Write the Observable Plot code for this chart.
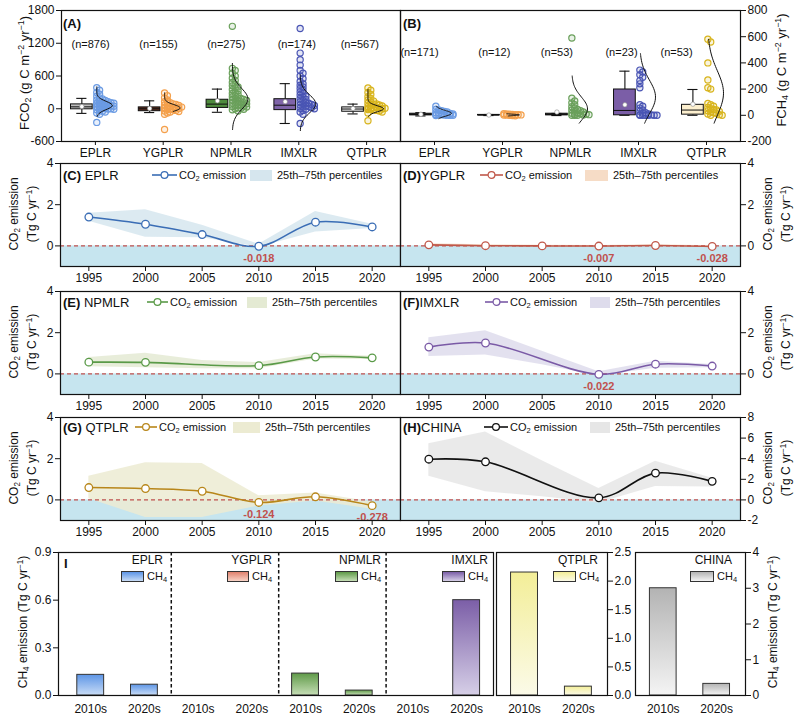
<!DOCTYPE html>
<html>
<head>
<meta charset="utf-8">
<script src="https://cdn.jsdelivr.net/npm/d3@7"></script>
<script src="https://cdn.jsdelivr.net/npm/@observablehq/plot@0.6"></script>
<style>
html,body{margin:0;padding:0;background:#fff;}
#fig{position:relative;width:800px;height:722px;overflow:hidden;font-family:"Liberation Sans",Arial,Helvetica,sans-serif;color:#111;}
#fig sub{font-size:0.68em;vertical-align:-0.3em;line-height:0;}
#fig sup{font-size:0.68em;vertical-align:0.5em;line-height:0;}
</style>
</head>
<body>
<div id="fig"></div>
<script>
// ---------------- DATA ----------------
const regions = ["EPLR", "YGPLR", "NPMLR", "IMXLR", "QTPLR"];

// Panel A: FCO2 (g C m-2 yr-1)
const co2N = [876, 155, 275, 174, 567];
const co2Q1 = [-10, -45, 15, -25, -55];
const co2Median = [35, 0, 85, 65, -5];
const co2Q3 = [80, 25, 165, 175, 25];
const co2WhiskerLow = [-85, -70, -65, -270, -95];
const co2WhiskerHigh = [190, 145, 360, 460, 85];
const co2Mean = [40, 5, 145, 130, 5];
const co2Points = [
  [385, 340, 300, 265, 230, 200, 180, 160, 150, 140, 130, 120, 110, 100, 100, 95, 90, 85, 80, 75, 70, 65, 60, 55, 50, 45, 40, 35, 30, 25, 20, 15, 10, 5, 0, -5, -10, -20, -30, -45, -60, -80, -100, -250],
  [290, 240, 200, 160, 130, 110, 100, 90, 80, 70, 60, 50, 40, 35, 30, 25, 20, 15, 10, 5, 0, -5, -10, -15, -20, -30, -40, -50, -60, -80, -100, -380],
  [1510, 740, 700, 650, 600, 560, 520, 480, 450, 420, 400, 380, 350, 330, 300, 280, 260, 240, 220, 200, 190, 180, 170, 160, 150, 140, 130, 120, 110, 100, 90, 80, 70, 60, 50, 40, 30, 20, 10, 0, -10, -20, -40],
  [1470, 1020, 900, 800, 700, 650, 600, 550, 500, 460, 430, 400, 370, 340, 310, 280, 250, 230, 210, 190, 170, 150, 130, 110, 100, 90, 80, 70, 60, 50, 40, 30, 20, 10, 0, -10, -30, -60, -100, -270],
  [380, 340, 300, 260, 220, 190, 160, 140, 120, 100, 90, 80, 70, 60, 50, 40, 30, 20, 15, 10, 5, 0, -5, -10, -15, -20, -30, -40, -60, -80, -220]
];
// normal fit [mean, sd, min, max]
const co2Fit = [[60, 75, -140, 400], [15, 60, -50, 290], [180, 190, -380, 830], [90, 165, -400, 620], [0, 55, -140, 350]];

// Panel B: FCH4 (g C m-2 yr-1)
const ch4N = [171, 12, 53, 23, 53];
const ch4Q1 = [0, 0, 0, 0, 5];
const ch4Median = [5, 1, 5, 37, 40];
const ch4Q3 = [12, 3, 12, 197, 80];
const ch4WhiskerLow = [-5, -2, -2, 0, 0];
const ch4WhiskerHigh = [20, 6, 14, 337, 197];
const ch4Mean = [8, 2, 25, 80, 85];
const ch4Points = [
  [70, 45, 40, 35, 30, 25, 20, 18, 15, 12, 10, 8, 6, 5, 4, 3, 2, 1, 0, 0, -2],
  [12, 10, 8, 6, 5, 4, 3, 2, 1, 0, -2, -3],
  [590, 130, 110, 95, 80, 65, 55, 45, 40, 35, 30, 25, 20, 15, 12, 10, 8, 5, 3, 0, 0, 0],
  [345, 330, 310, 290, 265, 240, 210, 80, 70, 55, 40, 30, 20, 15, 10, 5, 3, 0, 0, 0, 0, 0, 0],
  [580, 560, 400, 270, 210, 200, 90, 80, 70, 60, 50, 45, 40, 35, 30, 25, 20, 15, 10, 5, 0, 0]
];
const ch4Fit = [[15, 22, -25, 70], [3, 5, -5, 12], [50, 90, -60, 300], [140, 130, -60, 470], [170, 170, -60, 580]];

// Panels C-H: CO2 emission (Tg C yr-1)
const years = [1995, 2000, 2005, 2010, 2015, 2020];
const eplrCO2 = [1.40, 1.05, 0.55, -0.018, 1.15, 0.92];
const eplrP25 = [1.20, 0.42, 0.40, -0.06, 0.67, 0.85];
const eplrP75 = [1.58, 1.75, 1.00, 0.08, 1.67, 1.05];
const ygplrCO2 = [0.05, 0.01, 0.00, -0.007, 0.02, -0.028];
const ygplrP25 = [0.00, -0.03, -0.04, -0.04, -0.02, -0.06];
const ygplrP75 = [0.10, 0.05, 0.03, 0.02, 0.06, 0.01];
const npmlrCO2 = [0.57, 0.56, null, 0.40, 0.82, 0.78];
const npmlrP25 = [0.35, 0.30, 0.25, 0.25, 0.72, 0.70];
const npmlrP75 = [0.80, 1.00, 0.65, 0.55, 0.98, 0.86];
const imxlrCO2 = [1.30, 1.50, null, -0.022, 0.47, 0.38];
const imxlrP25 = [0.85, 0.92, 0.45, -0.10, 0.28, 0.30];
const imxlrP75 = [1.75, 2.10, 1.10, 0.10, 0.62, 0.46];
const qtplrCO2 = [0.60, 0.55, 0.42, -0.124, 0.15, -0.278];
const qtplrP25 = [0.05, -0.85, -0.85, -0.30, -0.05, -0.45];
const qtplrP75 = [1.15, 1.80, 1.77, 0.20, 0.33, -0.10];
const chinaCO2 = [3.95, 3.70, null, 0.20, 2.60, 1.80];
const chinaP25 = [2.30, 0.80, 0.30, -0.30, 1.30, 1.25];
const chinaP75 = [5.45, 6.60, 3.80, 1.10, 3.75, 2.10];

// Panel I: CH4 emission (Tg C yr-1)
const ch4Decades = ["2010s", "2020s"];
const ch4Regions = ["EPLR", "YGPLR", "NPMLR", "IMXLR"];
const ch4EPLR = [0.13, 0.068];
const ch4YGPLR = [0, 0];
const ch4NPMLR = [0.138, 0.031];
const ch4IMXLR = [0, 0.60];
const ch4QTPLR = [2.15, 0.155];
const ch4CHINA = [3.0, 0.325];

// ---------------- STYLES ----------------
const FONT = '"Liberation Sans", Arial, Helvetica, sans-serif';
const baseStyle = {background: "transparent", fontFamily: FONT, fontSize: "12px", color: "#111", overflow: "visible"};
const ptColors = ["#6b9be3", "#f4a04c", "#6aa05b", "#4a55b4", "#d8b41d"];
const boxFillA = ["#bdbdbd", "#5b2c1e", "#4e8b3d", "#7f64a9", "#e9e9e9"];
const boxFillB = ["#222222", "#222222", "#222222", "#7b5ea7", "#fdf0cf"];
const NEG_FILL = "#c6e5ef";
const RED = "#c0504d";
const gradStops = {
  EPLR: ["#5d95e6", "#c8dcf6"], YGPLR: ["#e0826e", "#f8d3c6"], NPMLR: ["#5f9a48", "#c6deb6"],
  IMXLR: ["#7b5ea7", "#d6cfe7"], QTPLR: ["#f3ee98", "#fbfae8"], CHINA: ["#b3b3b3", "#f4f4f4"]
};

// ---------------- HELPERS ----------------
const fig = document.getElementById("fig");
const NS = "http://www.w3.org/2000/svg";

(function () {
  const s = document.createElementNS(NS, "svg");
  s.setAttribute("width", 0); s.setAttribute("height", 0);
  s.style.position = "absolute";
  let h = "<defs>";
  for (const [k, [c1, c2]] of Object.entries(gradStops)) {
    h += `<linearGradient id="grad${k}" x1="0" y1="0" x2="0" y2="1"><stop offset="0" stop-color="${c1}"/><stop offset="1" stop-color="${c2}"/></linearGradient>`;
  }
  h += "</defs>";
  s.innerHTML = h;
  document.body.insertBefore(s, fig);
})();

function place(el, left, top) {
  el.style.position = "absolute";
  el.style.left = left + "px";
  el.style.top = top + "px";
  fig.appendChild(el);
  return el;
}
function html(s, x, y, o = {}) {
  const {anchor = "start", size = 12, rotate = false, lh = 1, color = "#111"} = o;
  const d = document.createElement("div");
  d.innerHTML = s;
  d.style.cssText = `position:absolute;left:${x}px;top:${y}px;font-size:${size}px;white-space:nowrap;line-height:${lh};color:${color};`;
  const tx = anchor === "start" ? "0" : anchor === "middle" ? "-50%" : "-100%";
  if (rotate) { d.style.transform = "translate(-50%,-50%) rotate(-90deg)"; d.style.textAlign = "center"; }
  else d.style.transform = `translate(${tx},-50%)`;
  fig.appendChild(d);
  return d;
}
function lineSwatch(x1, x2, y, color) {
  const w = x2 - x1;
  const s = document.createElementNS(NS, "svg");
  s.setAttribute("width", w); s.setAttribute("height", 10);
  s.innerHTML = `<line x1="0" x2="${w}" y1="5" y2="5" stroke="${color}" stroke-width="1.6"/><circle cx="${w / 2}" cy="5" r="3.4" fill="white" stroke="${color}" stroke-width="1.2"/>`;
  place(s, x1, y - 5);
}
function rectSwatch(x1, x2, y, h, bg, border) {
  const d = document.createElement("div");
  d.style.cssText = `width:${x2 - x1}px;height:${h}px;background:${bg};box-sizing:border-box;${border ? "border:1px solid #333;" : ""}`;
  place(d, x1, y - h / 2);
}
function swarm(vals, g, thresh) {
  const placed = [];
  return vals.map(v => {
    let best = 0, bestC = Infinity;
    for (let k = 0; k <= 6; k++) {
      const c = placed.filter(p => p.k === k && Math.abs(p.v - v) < thresh).length;
      if (c < bestC) { bestC = c; best = k; }
      if (c === 0) break;
    }
    placed.push({v, k: best});
    return {g, v, x: g + 0.02 + best * 0.042};
  });
}

// ---------------- BOX PANELS (A, B) ----------------
function boxPanel(c) {
  const idx = d3.range(5);
  const swarmData = c.pts.flatMap((vals, g) => swarm(vals, g, c.thresh));
  const curveData = c.fit.flatMap(([mu, sd, lo, hi], g) =>
    d3.range(41).map(k => {
      const v = lo + (hi - lo) * k / 40;
      return {g, v, x: g + 0.02 + 0.23 * Math.exp(-0.5 * ((v - mu) / sd) ** 2)};
    }));
  const bx = i => i - 0.2;
  const svg = Plot.plot({
    width: 400, height: 165, marginTop: 10, marginBottom: 24,
    marginLeft: c.marginLeft, marginRight: c.marginRight,
    x: {domain: [-0.5, 4.5]}, y: {domain: c.yDomain},
    color: {type: "identity"},
    style: baseStyle,
    marks: [
      Plot.ruleX(idx, {x: bx, y1: i => c.wlo[i], y2: i => c.q1[i], stroke: "#111", strokeWidth: 1.1}),
      Plot.ruleX(idx, {x: bx, y1: i => c.q3[i], y2: i => c.whi[i], stroke: "#111", strokeWidth: 1.1}),
      Plot.ruleY(idx, {y: i => c.whi[i], x1: i => i - 0.275, x2: i => i - 0.125, stroke: "#111", strokeWidth: 1.1}),
      Plot.ruleY(idx, {y: i => c.wlo[i], x1: i => i - 0.275, x2: i => i - 0.125, stroke: "#111", strokeWidth: 1.1}),
      Plot.rect(idx, {x1: i => i - 0.36, x2: i => i - 0.04, y1: i => c.q1[i], y2: i => c.q3[i], fill: i => c.boxFill[i], stroke: "#111", strokeWidth: 1}),
      Plot.ruleY(idx, {y: i => c.med[i], x1: i => i - 0.36, x2: i => i - 0.04, stroke: "#111", strokeWidth: 1}),
      Plot.dot(idx, {x: bx, y: i => c.mean[i], r: 2.2, fill: "white", stroke: "#888", strokeWidth: 0.6}),
      Plot.dot(swarmData, {x: "x", y: "v", r: 3.1, stroke: d => ptColors[d.g], fill: d => ptColors[d.g], fillOpacity: 0.15, strokeWidth: 1.2}),
      Plot.line(curveData, {x: "x", y: "v", z: "g", stroke: "#111", strokeWidth: 1, curve: "natural"}),
      Plot.text(idx, {x: i => i + c.nShift[i], y: () => c.nY, text: i => `(n=${c.N[i]})`, fontSize: 11}),
      Plot.frame({strokeWidth: 1.2}),
      Plot.axisY({anchor: c.axis, ticks: c.yTicks, tickSize: 5, tickPadding: 2, tickFormat: d => String(d), label: null}),
      Plot.axisX({ticks: idx, tickFormat: i => regions[i], tickSize: 4, tickPadding: 3, label: null})
    ]
  });
  place(svg, c.left, 0);
}

boxPanel({
  left: 0, marginLeft: 61, marginRight: 0, axis: "left",
  yDomain: [-600, 1800], yTicks: [-600, 0, 600, 1200, 1800],
  N: co2N, q1: co2Q1, med: co2Median, q3: co2Q3, wlo: co2WhiskerLow, whi: co2WhiskerHigh, mean: co2Mean,
  pts: co2Points, fit: co2Fit, boxFill: boxFillA, thresh: 55, nY: 1185, nShift: [-0.07, -0.07, -0.07, -0.03, -0.1]
});
boxPanel({
  left: 400, marginLeft: 0, marginRight: 60, axis: "right",
  yDomain: [-200, 800], yTicks: [-200, 0, 200, 400, 600, 800],
  N: ch4N, q1: ch4Q1, med: ch4Median, q3: ch4Q3, wlo: ch4WhiskerLow, whi: ch4WhiskerHigh, mean: ch4Mean,
  pts: ch4Points, fit: ch4Fit, boxFill: boxFillB, thresh: 22, nY: 480, nShift: [-0.22, -0.12, -0.2, -0.25, -0.44]
});
html("<b>(A)</b>", 63, 23, {size: 13});
html("<b>(B)</b>", 403, 23, {size: 13});
html("FCO<sub>2</sub> (g C m<sup>−2</sup> yr<sup>−1</sup>)", 24, 73, {rotate: true, size: 13});
html("FCH<sub>4</sub> (g C m<sup>−2</sup> yr<sup>−1</sup>)", 781, 70, {rotate: true, size: 13});

// ---------------- LINE PANELS (C-H) ----------------
function linePanel(c) {
  const rows = years.map((y, i) => ({year: y, v: c.values[i], lo: c.p25[i], hi: c.p75[i]}));
  const pts = rows.filter(d => d.v != null);
  const xDomain = [1992.5, 2022.5];
  const left = c.side === "left";
  const svg = Plot.plot({
    width: 400, height: 138, marginTop: 10, marginBottom: 25,
    marginLeft: left ? 60 : 0, marginRight: left ? 0 : 60,
    x: {domain: xDomain}, y: {domain: c.yDomain},
    style: baseStyle,
    marks: [
      Plot.rect([0], {x1: () => xDomain[0], x2: () => xDomain[1], y1: () => c.yDomain[0], y2: () => 0, fill: NEG_FILL}),
      Plot.areaY(rows, {x: "year", y1: "lo", y2: "hi", fill: c.band, fillOpacity: 0.85}),
      Plot.ruleY([0], {stroke: RED, strokeWidth: 1.1, strokeDasharray: "4,3"}),
      Plot.line(pts, {x: "year", y: "v", stroke: c.color, strokeWidth: 1.6, curve: "catmull-rom"}),
      Plot.dot(pts, {x: "year", y: "v", r: 3.8, fill: "white", stroke: c.color, strokeWidth: 1.3}),
      Plot.text(pts.filter(d => d.v < 0), {x: "year", y: "v", text: d => d.v.toFixed(3), dy: 12, fill: RED, fontWeight: "bold", fontSize: 11}),
      Plot.frame({strokeWidth: 1.2}),
      Plot.axisY({anchor: c.side, ticks: c.yTicks, tickSize: 5, tickPadding: 2, tickFormat: d => String(d), label: null}),
      Plot.axisX({ticks: years, tickSize: 5, tickPadding: 2, tickFormat: d => String(d), label: null})
    ]
  });
  place(svg, left ? 0 : 400, c.top - 10);
  const fx = left ? 60 : 400, ly = c.top + c.ly;
  html(`<b>(${c.letter})</b>${left ? " " : ""}${c.name}`, fx + 3, ly, {size: 13});
  lineSwatch(fx + c.lg[0], fx + c.lg[1], ly, c.color);
  html("CO<sub>2</sub> emission", fx + c.lg[1] + 2, ly, {size: 11});
  rectSwatch(fx + c.lg[2], fx + c.lg[3], ly, 11, c.band, false);
  html("25th–75th percentiles", fx + c.lg[3] + 5, ly, {size: 11});
  const tx = left ? 23 : 777;
  html("CO<sub>2</sub> emission<br>(Tg C yr<sup>−1</sup>)", tx, c.top + 51, {rotate: true, size: 12, lh: "18px"});
}
const yT = [0, 2, 4];
linePanel({letter: "C", name: "EPLR", side: "left", top: 163, ly: 12, values: eplrCO2, p25: eplrP25, p75: eplrP75, color: "#3a6db5", band: "#d6e6ee", yDomain: [-1, 4], yTicks: yT, lg: [92, 117, 190, 212]});
linePanel({letter: "D", name: "YGPLR", side: "right", top: 163, ly: 12, values: ygplrCO2, p25: ygplrP25, p75: ygplrP75, color: "#c0584a", band: "#f6dcc6", yDomain: [-1, 4], yTicks: yT, lg: [80, 103, 185, 208]});
linePanel({letter: "E", name: "NPMLR", side: "left", top: 291, ly: 11, values: npmlrCO2, p25: npmlrP25, p75: npmlrP75, color: "#5a9a48", band: "#e4ead3", yDomain: [-1, 4], yTicks: yT, lg: [87, 108, 187, 207]});
linePanel({letter: "F", name: "IMXLR", side: "right", top: 291, ly: 11, values: imxlrCO2, p25: imxlrP25, p75: imxlrP75, color: "#7a5aa6", band: "#dedcec", yDomain: [-1, 4], yTicks: yT, lg: [85, 108, 190, 210]});
linePanel({letter: "G", name: "QTPLR", side: "left", top: 417, ly: 10, values: qtplrCO2, p25: qtplrP25, p75: qtplrP75, color: "#b8861a", band: "#ecebd2", yDomain: [-1, 4], yTicks: yT, lg: [75, 97, 173, 200]});
linePanel({letter: "H", name: "CHINA", side: "right", top: 417, ly: 10, values: chinaCO2, p25: chinaP25, p75: chinaP75, color: "#111111", band: "#e6e6e6", yDomain: [-2, 8], yTicks: [-2, 0, 2, 4, 6, 8], lg: [84, 108, 190, 210]});

// ---------------- PANEL I ----------------
const ch4Sets = [ch4EPLR, ch4YGPLR, ch4NPMLR, ch4IMXLR];
const I1 = Plot.plot({
  width: 500, height: 182, marginTop: 12, marginBottom: 27, marginLeft: 58, marginRight: 7,
  x: {domain: [-0.6, 7.5]}, y: {domain: [0, 0.9]},
  style: baseStyle,
  marks: [
    ...ch4Sets.map((arr, g) => Plot.rect(arr.map((v, d) => ({pos: g * 2 + d, v})).filter(d => d.v > 0),
      {x1: d => d.pos - 0.25, x2: d => d.pos + 0.25, y1: () => 0, y2: "v", fill: `url(#grad${ch4Regions[g]})`, stroke: "#333", strokeWidth: 1})),
    Plot.ruleX([1.5, 3.5, 5.5], {stroke: "#111", strokeWidth: 1.5, strokeDasharray: "3.5,2.5"}),
    Plot.frame({strokeWidth: 1.2}),
    Plot.axisY({ticks: [0, 0.3, 0.6, 0.9], tickFormat: d3.format(".1f"), tickSize: 5, tickPadding: 2, label: null}),
    Plot.axisX({ticks: d3.range(8), tickFormat: i => ch4Decades[i % 2], tickSize: 0, tickPadding: 9, label: null})
  ]
});
place(I1, 0, 540);

function ch4Small(values, key, left, width, marginRight, yDomain, yTicks) {
  const svg = Plot.plot({
    width, height: 182, marginTop: 12, marginBottom: 27, marginLeft: 0, marginRight,
    x: {domain: [-0.52, 1.54]}, y: {domain: yDomain},
    style: baseStyle,
    marks: [
      Plot.rect(values.map((v, d) => ({pos: d, v})), {x1: d => d.pos - 0.25, x2: d => d.pos + 0.25, y1: () => 0, y2: "v", fill: `url(#grad${key})`, stroke: "#333", strokeWidth: 1}),
      Plot.frame({strokeWidth: 1.2}),
      Plot.axisY({anchor: "right", ticks: yTicks, tickFormat: yDomain[1] > 3 ? (d => String(d)) : d3.format(".1f"), tickSize: 5, tickPadding: 2, label: null}),
      Plot.axisX({ticks: [0, 1], tickFormat: i => ch4Decades[i], tickSize: 0, tickPadding: 9, label: null})
    ]
  });
  place(svg, left, 540);
}
ch4Small(ch4QTPLR, "QTPLR", 496, 150, 39, [0, 2.5], [0, 0.5, 1, 1.5, 2, 2.5]);
ch4Small(ch4CHINA, "CHINA", 635, 165, 55, [0, 4], [0, 1, 2, 3, 4]);

html("<b>I</b>", 64, 563, {size: 13});
const grpLabels = [["EPLR", 163, 121, 144], ["YGPLR", 272, 227, 249], ["NPMLR", 381, 335, 358], ["IMXLR", 488, 442, 465], ["QTPLR", 598, 553, 576], ["CHINA", 732, 690, 714]];
for (const [name, right, s1, s2] of grpLabels) {
  html(name, right, 560, {anchor: "end", size: 12});
  const [c1, c2] = gradStops[name];
  rectSwatch(s1, s2, 576, 11, `linear-gradient(${c1}, ${c2})`, true);
  html("CH<sub>4</sub>", s2 + 3, 576, {size: 11});
}
html("CH<sub>4</sub> emission (Tg C yr<sup>−1</sup>)", 23, 622, {rotate: true, size: 12});
html("CH<sub>4</sub> emission (Tg C yr<sup>−1</sup>)", 773, 622, {rotate: true, size: 12});
</script>
</body>
</html>
